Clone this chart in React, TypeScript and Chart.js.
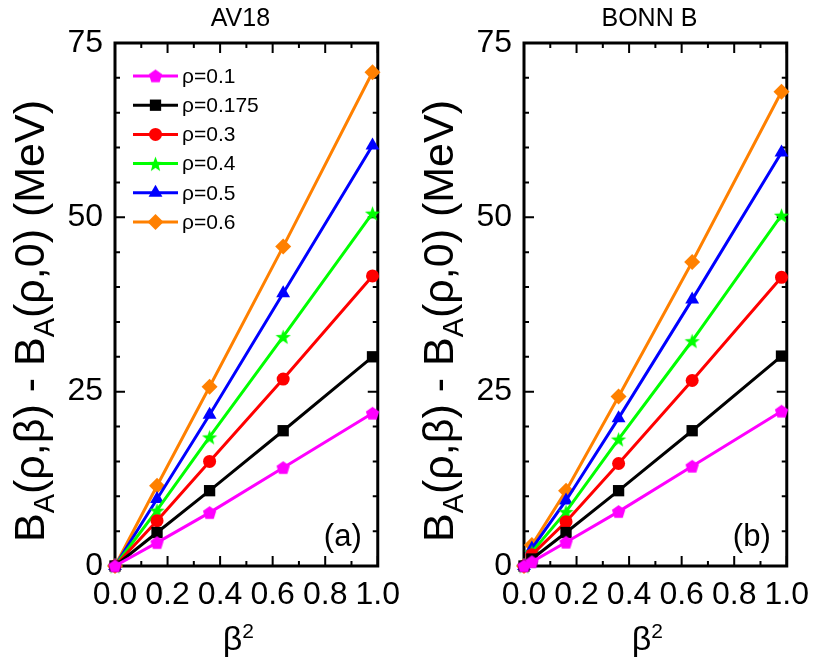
import React, { useEffect, useRef } from "react";
import { Chart, registerables } from "chart.js";

Chart.register(...registerables);

// ---------- data ----------
const rhoLabels = ["ρ=0.1", "ρ=0.175", "ρ=0.3", "ρ=0.4", "ρ=0.5", "ρ=0.6"];
const colors = ["#FF00FF", "#000000", "#FF0000", "#00FF00", "#0000FF", "#FF8000"];
const shapes = ["pentagon", "rect", "circle", "star", "triangle", "rectRot"];

// panel (a) AV18
const betaSqA = [0, 0.16, 0.36, 0.64, 0.98];
const av18_r01 = [0, 3.35, 7.65, 14.1, 21.9];
const av18_r0175 = [0, 4.8, 10.8, 19.4, 30.0];
const av18_r03 = [0, 6.5, 15.0, 26.8, 41.6];
const av18_r04 = [0, 8.0, 18.5, 32.9, 50.6];
const av18_r05 = [0, 9.6, 21.7, 39.1, 60.3];
const av18_r06 = [0, 11.5, 25.7, 45.8, 70.8];

// panel (b) BONN B
const betaSqB = [0, 0.03, 0.16, 0.36, 0.64, 0.98];
const bonn_r01 = [0, 0.6, 3.4, 7.8, 14.3, 22.2];
const bonn_r0175 = [0, 1.0, 4.8, 10.8, 19.4, 30.1];
const bonn_r03 = [0, 1.6, 6.35, 14.7, 26.6, 41.4];
const bonn_r04 = [0, 2.0, 7.8, 18.2, 32.3, 50.3];
const bonn_r05 = [0, 2.5, 9.4, 21.2, 38.2, 59.3];
const bonn_r06 = [0, 3.0, 10.8, 24.3, 43.6, 68.0];

const xTicks = [0, 0.2, 0.4, 0.6, 0.8, 1.0];
const yTicks = [0, 25, 50, 75];

const FONT = "'Liberation Sans', Arial, sans-serif";

function makeImage(kind: string, color: string, size: number) {
  const c = document.createElement("canvas");
  c.width = size;
  c.height = size;
  const ctx = c.getContext("2d")!;
  const cx = size / 2, cy = size / 2, r = size / 2 - 0.5;
  ctx.fillStyle = color;
  ctx.beginPath();
  if (kind === "pentagon") {
    for (let i = 0; i < 5; i++) {
      const a = -Math.PI / 2 + (i * 2 * Math.PI) / 5;
      const px = cx + r * Math.cos(a), py = cy + 0.5 + r * Math.sin(a);
      if (i === 0) ctx.moveTo(px, py); else ctx.lineTo(px, py);
    }
  } else {
    for (let i = 0; i < 10; i++) {
      const a = -Math.PI / 2 + (i * Math.PI) / 5;
      const rr = i % 2 === 0 ? r : r * 0.42;
      const px = cx + rr * Math.cos(a), py = cy + 1 + rr * Math.sin(a);
      if (i === 0) ctx.moveTo(px, py); else ctx.lineTo(px, py);
    }
  }
  ctx.closePath();
  ctx.fill();
  return c;
}

function pointStyleFor(i: number): any {
  const s = shapes[i];
  if (s === "pentagon") return makeImage("pentagon", colors[i], 15);
  if (s === "star") return makeImage("star", colors[i], 17);
  return s;
}
function radiusFor(i: number) {
  const s = shapes[i];
  if (s === "rect") return 8;
  if (s === "circle") return 6.5;
  if (s === "triangle") return 8;
  if (s === "rectRot") return 8;
  return 7;
}

type Panel = {
  title: string;
  tag: string;
  xs: number[];
  series: number[][];
  legend: boolean;
};

const panels: Panel[] = [
  { title: "AV18", tag: "(a)", xs: betaSqA, series: [av18_r01, av18_r0175, av18_r03, av18_r04, av18_r05, av18_r06], legend: true },
  { title: "BONN B", tag: "(b)", xs: betaSqB, series: [bonn_r01, bonn_r0175, bonn_r03, bonn_r04, bonn_r05, bonn_r06], legend: false },
];

type Seg = { t: string; size: number; dy: number };

function drawSegments(ctx: CanvasRenderingContext2D, segs: Seg[], startX: number, baseY: number) {
  let x = startX;
  for (const s of segs) {
    ctx.font = `${s.size}px ${FONT}`;
    ctx.fillText(s.t, x, baseY + s.dy);
    x += ctx.measureText(s.t).width;
  }
  return x;
}
function segWidth(ctx: CanvasRenderingContext2D, segs: Seg[]) {
  let w = 0;
  for (const s of segs) {
    ctx.font = `${s.size}px ${FONT}`;
    w += ctx.measureText(s.t).width;
  }
  return w;
}

function drawPoint(ctx: CanvasRenderingContext2D, ps: any, r: number, x: number, y: number) {
  if (typeof ps !== "string") {
    ctx.drawImage(ps, x - ps.width / 2, y - ps.height / 2);
    return;
  }
  ctx.beginPath();
  if (ps === "circle") {
    ctx.arc(x, y, r, 0, Math.PI * 2);
  } else if (ps === "rect") {
    const s = Math.SQRT1_2 * r;
    ctx.rect(x - s, y - s, 2 * s, 2 * s);
  } else if (ps === "triangle") {
    const rad = -Math.PI / 2;
    ctx.moveTo(x + Math.cos(rad) * r, y + Math.sin(rad) * r);
    ctx.lineTo(x + Math.cos(rad + (2 * Math.PI) / 3) * r, y + Math.sin(rad + (2 * Math.PI) / 3) * r);
    ctx.lineTo(x + Math.cos(rad + (4 * Math.PI) / 3) * r, y + Math.sin(rad + (4 * Math.PI) / 3) * r);
    ctx.closePath();
  } else if (ps === "rectRot") {
    ctx.moveTo(x, y - r); ctx.lineTo(x + r, y); ctx.lineTo(x, y + r); ctx.lineTo(x - r, y);
    ctx.closePath();
  }
  ctx.fill();
}

function makeDecor(panel: Panel, images: any[]) {
  return {
    id: "decor",
    beforeDatasetsDraw(chart: any) {
      const { ctx, chartArea, scales } = chart;
      const { left, right, top, bottom } = chartArea;
      const x = scales.x, y = scales.y;
      ctx.save();
      ctx.strokeStyle = "#000";
      ctx.lineWidth = 2;
      ctx.beginPath();
      for (let i = 0; i <= 10; i++) {
        const px = x.getPixelForValue(i / 10);
        const len = i % 2 === 0 ? 10 : 5;
        ctx.moveTo(px, bottom); ctx.lineTo(px, bottom - len);
        ctx.moveTo(px, top); ctx.lineTo(px, top + len);
      }
      for (let v = 0; v <= 75; v += 5) {
        const py = y.getPixelForValue(v);
        const len = v % 25 === 0 ? 10 : 5;
        ctx.moveTo(left, py); ctx.lineTo(left + len, py);
        ctx.moveTo(right, py); ctx.lineTo(right - len, py);
      }
      ctx.stroke();
      ctx.lineWidth = 3;
      ctx.strokeRect(left, top, right - left, bottom - top);
      ctx.restore();
    },
    afterDraw(chart: any) {
      const { ctx, chartArea } = chart;
      const { left, right, bottom } = chartArea;
      const cxp = (left + right) / 2;
      ctx.save();
      ctx.fillStyle = "#000";
      ctx.textBaseline = "alphabetic";
      // title
      ctx.font = `25px ${FONT}`;
      ctx.textAlign = "center";
      ctx.fillText(panel.title, cxp - 6, 26);
      // panel tag
      ctx.font = `31px ${FONT}`;
      ctx.fillText(panel.tag, right - 35, bottom - 20);
      // x title beta^2
      ctx.textAlign = "left";
      const xs: Seg[] = [
        { t: "β", size: 34, dy: 0 },
        { t: "2", size: 21, dy: -12 },
      ];
      const xw = segWidth(ctx, xs);
      drawSegments(ctx, xs, cxp - 8 - xw / 2, 650);
      // y title
      const ys: Seg[] = [
        { t: "B", size: 43, dy: 0 },
        { t: "A", size: 29, dy: 10 },
        { t: "(ρ,β) - B", size: 43, dy: 0 },
        { t: "A", size: 29, dy: 10 },
        { t: "(ρ,0) (MeV)", size: 43, dy: 0 },
      ];
      const yw = segWidth(ctx, ys);
      ctx.translate(44, 321);
      ctx.rotate(-Math.PI / 2);
      drawSegments(ctx, ys, -yw / 2, 0);
      ctx.restore();

      // legend
      if (panel.legend) {
        ctx.save();
        const rowY0 = 76, rowH = 29.2;
        for (let i = 0; i < rhoLabels.length; i++) {
          const ry = rowY0 + i * rowH;
          ctx.strokeStyle = colors[i];
          ctx.lineWidth = 3;
          ctx.beginPath();
          ctx.moveTo(133, ry); ctx.lineTo(178, ry);
          ctx.stroke();
          ctx.fillStyle = colors[i];
          drawPoint(ctx, images[i], radiusFor(i), 155.5, ry);
          ctx.fillStyle = "#000";
          ctx.font = `21px ${FONT}`;
          ctx.textAlign = "left";
          ctx.textBaseline = "middle";
          ctx.fillText(rhoLabels[i], 182, ry + 1);
        }
        ctx.restore();
      }
    },
  };
}

function PanelChart({ panel }: { panel: Panel }) {
  const ref = useRef<HTMLCanvasElement>(null);
  useEffect(() => {
    if (!ref.current) return;
    const images = panel.series.map((_, i) => pointStyleFor(i));
    const datasets = panel.series.map((vals, i) => ({
      label: rhoLabels[i],
      data: panel.xs.map((xv, k) => ({ x: xv, y: vals[k] })),
      borderColor: colors[i],
      backgroundColor: colors[i],
      pointBackgroundColor: colors[i],
      pointBorderColor: colors[i],
      pointBorderWidth: 0,
      borderWidth: 3,
      pointStyle: images[i],
      pointRadius: radiusFor(i),
      tension: 0,
      clip: false as any,
    }));
    const chart = new Chart(ref.current, {
      type: "line",
      data: { datasets },
      options: {
        animation: false,
        responsive: false,
        devicePixelRatio: 1,
        layout: { padding: { top: 43, right: 23, left: 0, bottom: 0 } },
        plugins: { legend: { display: false }, tooltip: { enabled: false }, title: { display: false } },
        scales: {
          x: {
            type: "linear",
            min: 0,
            max: 1,
            afterFit: (s: any) => { s.height = 93; },
            afterBuildTicks: (s: any) => { s.ticks = xTicks.map((v) => ({ value: v })); },
            grid: { display: false, drawTicks: false },
            border: { display: false },
            ticks: {
              autoSkip: false,
              maxRotation: 0,
              padding: 10,
              color: "#000",
              font: { family: FONT, size: 32 },
              callback: (v: any) => Number(v).toFixed(1),
            },
          },
          y: {
            type: "linear",
            min: 0,
            max: 75,
            afterFit: (s: any) => { s.width = 115; },
            afterBuildTicks: (s: any) => { s.ticks = yTicks.map((v) => ({ value: v })); },
            grid: { display: false, drawTicks: false },
            border: { display: false },
            ticks: {
              autoSkip: false,
              padding: 12,
              color: "#000",
              font: { family: FONT, size: 32 },
              callback: (v: any) => String(v),
            },
          },
        },
      },
      plugins: [makeDecor(panel, images)],
    });
    return () => chart.destroy();
  }, [panel]);
  return <canvas ref={ref} width={410} height={659} style={{ display: "block" }} />;
}

export default function App() {
  return (
    <div style={{ position: "fixed", left: 0, top: 0, width: 820, height: 659, background: "#fff" }}>
      <div style={{ position: "absolute", left: 0, top: 0 }}>
        <PanelChart panel={panels[0]} />
      </div>
      <div style={{ position: "absolute", left: 409, top: 0 }}>
        <PanelChart panel={panels[1]} />
      </div>
    </div>
  );
}
